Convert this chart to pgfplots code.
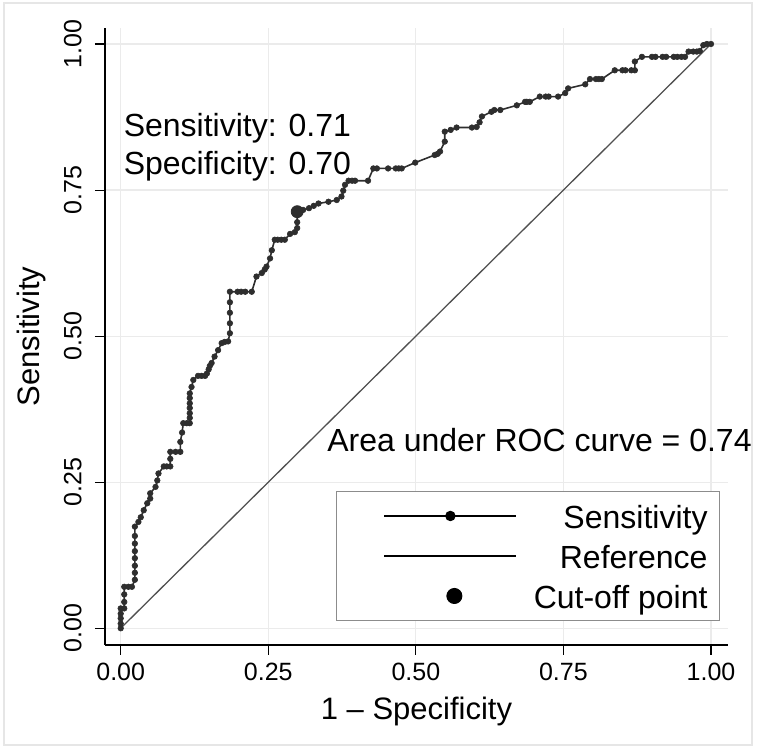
\documentclass[border=0pt]{standalone}
\usepackage{pgfplots}
\pgfplotsset{compat=1.18}
\usepackage{fontspec}
\setmainfont{Liberation Sans}
\definecolor{curvec}{HTML}{2E2E2E}
\definecolor{refl}{HTML}{505050}
\definecolor{gridc}{HTML}{EBEBEB}
\definecolor{framec}{HTML}{E6E6E6}
\definecolor{legbox}{HTML}{8C8C8C}
\begin{document}
\begin{tikzpicture}
\useasboundingbox (0,0) rectangle (381pt,374pt);
\draw[framec, line width=0.6pt] (2pt,1.5pt) rectangle (376pt,372.5pt);
\begin{axis}[
  at={(52.5pt,51.5pt)}, anchor=south west,
  scale only axis, width=311.5pt, height=308.5pt,
  xmin=-0.0266, xmax=1.0288, ymin=-0.0286, ymax=1.0274,
  axis x line*=bottom, axis y line*=left,
  axis line style={line width=0.55pt, black, -},
  xtick={0,0.25,0.5,0.75,1}, ytick={0,0.25,0.5,0.75,1},
  tick align=outside, major tick length=5pt,
  tick style={line width=0.55pt, black},
  grid=major, major grid style={gridc, line width=0.6pt},
  /pgf/number format/.cd, fixed, fixed zerofill, precision=2, assume math mode=true,
  /pgfplots/.cd,
  ticklabel style={font=\fontsize{12.5}{14}\selectfont},
  xticklabel style={anchor=north, inner sep=0pt},
  yticklabel style={rotate=90, anchor=south, inner sep=0pt},
  xticklabel shift=4pt, yticklabel shift=6.5pt,
  xlabel={1 – Specificity}, ylabel={Sensitivity},
  every axis x label/.style={at={(axis description cs:0.5,-0.107)}, anchor=center, font=\fontsize{15.5}{18}\selectfont},
  every axis y label/.style={at={(axis description cs:-0.118,0.5)}, rotate=90, anchor=center, font=\fontsize{15.5}{18}\selectfont},
  clip=false,
  legend style={at={(axis description cs:0.9872,0.0394)}, anchor=south east, draw=legbox, line width=0.5pt, fill=white,
    inner xsep=6pt, inner ysep=2.5pt, row sep=0.8pt, column sep=8.3pt,
    nodes={inner sep=0pt, text height=15.8pt, text depth=3.4pt, font=\fontsize{16}{19}\selectfont}},
  legend cell align=right,
]
\addplot[curvec, line width=0.8pt, mark=*, mark size=1.4pt, mark options={fill=curvec, draw=curvec, line width=0.3pt},
  legend image code/.code={
    \path (-17.65pt,0pt);
    \draw[black, line width=0.8pt] (0pt,0pt) -- (66pt,0pt);
    \fill[black] (33pt,0pt) circle (2.2pt);
  }] coordinates {
(0,0) (0,0.008) (0,0.017) (0,0.025) (0,0.034) (0.006,0.034) (0.006,0.045) (0.006,0.058) (0.006,0.071)
(0.013,0.071) (0.019,0.071) (0.024,0.083) (0.024,0.095) (0.024,0.107) (0.024,0.120) (0.024,0.132)
(0.024,0.145) (0.024,0.158) (0.024,0.174) (0.030,0.182) (0.034,0.190) (0.039,0.202) (0.045,0.214)
(0.050,0.222) (0.050,0.231) (0.059,0.242) (0.062,0.253) (0.064,0.265) (0.073,0.277) (0.078,0.277)
(0.084,0.277) (0.084,0.290) (0.084,0.302) (0.093,0.302) (0.101,0.302) (0.101,0.319) (0.104,0.335)
(0.106,0.351) (0.112,0.351) (0.117,0.351) (0.117,0.360) (0.117,0.368) (0.117,0.377) (0.117,0.385)
(0.117,0.394) (0.117,0.402) (0.120,0.413) (0.123,0.425) (0.131,0.432) (0.137,0.432) (0.143,0.432)
(0.146,0.436) (0.149,0.443) (0.151,0.449) (0.154,0.454) (0.159,0.465) (0.165,0.476) (0.171,0.488)
(0.176,0.490) (0.182,0.491) (0.185,0.505) (0.185,0.522) (0.185,0.540) (0.185,0.558) (0.185,0.576)
(0.198,0.576) (0.204,0.576) (0.211,0.576) (0.222,0.576) (0.230,0.602) (0.239,0.608) (0.244,0.614)
(0.247,0.619) (0.253,0.633) (0.256,0.647) (0.261,0.665) (0.266,0.665) (0.272,0.665) (0.278,0.665)
(0.287,0.675) (0.295,0.678) (0.299,0.685) (0.299,0.695) (0.299,0.713) (0.309,0.716) (0.319,0.719)
(0.327,0.723) (0.335,0.727) (0.352,0.730) (0.366,0.733) (0.374,0.739) (0.377,0.749) (0.380,0.759)
(0.386,0.766) (0.392,0.766) (0.397,0.766) (0.419,0.766) (0.428,0.787) (0.434,0.787) (0.453,0.787)
(0.466,0.787) (0.471,0.787) (0.476,0.787) (0.499,0.797) (0.532,0.810) (0.537,0.812) (0.541,0.816)
(0.549,0.833) (0.549,0.850) (0.559,0.853) (0.569,0.857) (0.595,0.857) (0.603,0.858) (0.608,0.866)
(0.612,0.876) (0.628,0.884) (0.633,0.887) (0.643,0.887) (0.671,0.895) (0.685,0.901) (0.688,0.901)
(0.693,0.901) (0.710,0.910) (0.720,0.910) (0.725,0.910) (0.741,0.910) (0.753,0.916) (0.758,0.924)
(0.787,0.931) (0.795,0.940) (0.805,0.940) (0.810,0.940) (0.815,0.940) (0.837,0.955) (0.850,0.955)
(0.855,0.955) (0.865,0.955) (0.871,0.955) (0.871,0.970) (0.883,0.978) (0.900,0.978) (0.906,0.978)
(0.918,0.978) (0.924,0.978) (0.937,0.978) (0.943,0.978) (0.950,0.978) (0.956,0.978) (0.962,0.987)
(0.970,0.987) (0.976,0.987) (0.981,0.988) (0.987,0.998) (0.993,1) (1,1)
};
\addlegendentry{Sensitivity}
\addplot[refl, line width=0.65pt, mark=none,
  legend image code/.code={
    \path (-17.65pt,0pt);
    \draw[black, line width=0.8pt] (0pt,0pt) -- (66pt,0pt);
  }] coordinates {(0,0) (1,1)};
\addlegendentry{Reference}
\addplot[only marks, mark=*, mark size=3pt, mark options={fill=curvec, draw=curvec},
  legend image code/.code={
    \path (-17.65pt,0pt) (66pt,0pt);
    \fill[black] (35pt,0pt) circle (3.75pt);
  }] coordinates {(0.299,0.713)};
\addlegendentry{Cut-off point}
\node[anchor=base west, font=\fontsize{16}{19}\selectfont, inner sep=0pt] at (axis cs:0.0046,0.8413) {Sensitivity: 0.71};
\node[anchor=base west, font=\fontsize{16}{19}\selectfont, inner sep=0pt] at (axis cs:0.0046,0.777) {Specificity: 0.70};
\node[anchor=base east, font=\fontsize{16}{19}\selectfont, inner sep=0pt] at (axis cs:1.0695,0.3022) {Area under ROC curve = 0.74};
\end{axis}
\end{tikzpicture}
\end{document}
